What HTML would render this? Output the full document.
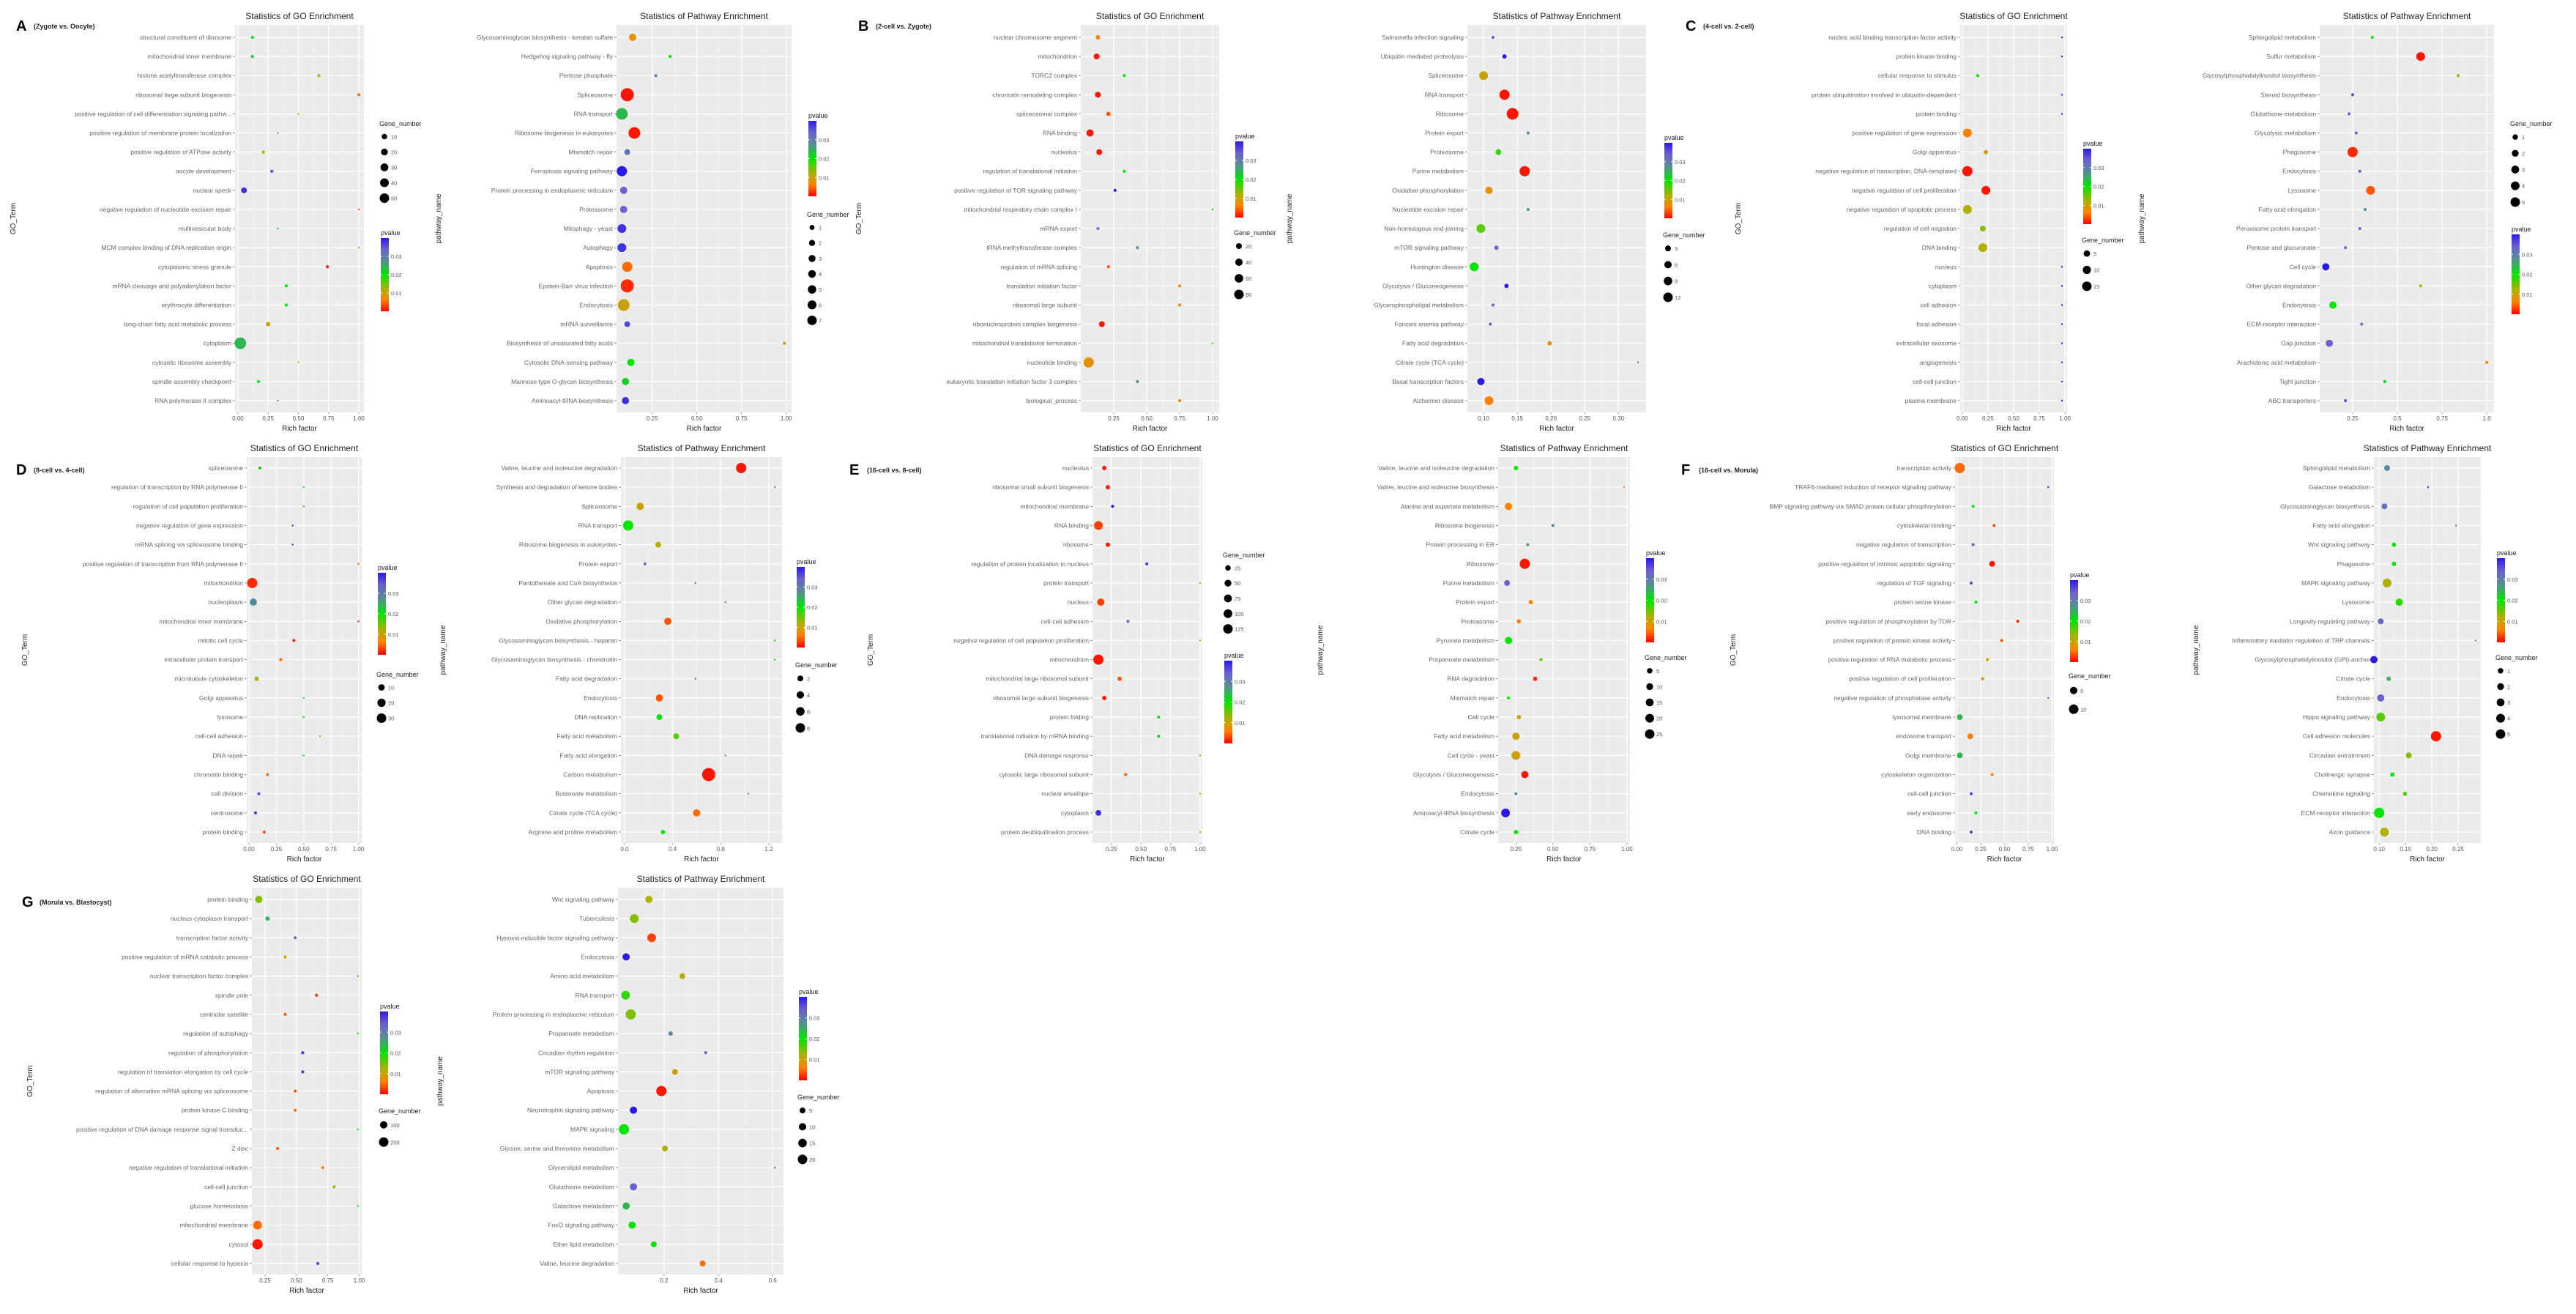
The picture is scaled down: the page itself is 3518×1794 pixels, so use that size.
<!DOCTYPE html>
<html><head><meta charset="utf-8"><style>
html,body{margin:0;padding:0;background:#fff;}
svg{display:block;font-family:"Liberation Sans",sans-serif;}
</style></head><body>
<svg id="fig" width="3518" height="1794" viewBox="0 0 3518 1794" xmlns="http://www.w3.org/2000/svg"></svg>
<script>
// ---------- DATA (categories, rich factor, pvalue, gene number) ----------
const A_GO_cats=["structural constituent of ribosome","mitochondrial inner membrane","histone acetyltransferase complex","ribosomal large subunit biogenesis","positive regulation of cell differentiation signaling pathw...","positive regulation of membrane protein localization","positive regulation of ATPase activity","oocyte development","nuclear speck","negative regulation of nucleotide-excision repair","multivesicular body","MCM complex binding of DNA replication origin","cytoplasmic stress granule","mRNA cleavage and polyadenylation factor","erythrocyte differentiation","long-chain fatty acid metabolic process","cytoplasm","cytosolic ribosome assembly","spindle assembly checkpoint","RNA polymerase II complex"];
const A_GO_rich=[0.12,0.12,0.67,1.0,0.5,0.33,0.21,0.28,0.05,1.0,0.33,1.0,0.74,0.4,0.4,0.25,0.02,0.5,0.17,0.33];
const A_GO_p=[0.020,0.024,0.012,0.005,0.014,0.028,0.012,0.036,0.038,0.004,0.026,0.006,0.001,0.020,0.020,0.010,0.024,0.012,0.020,0.026];
const A_GO_genes=[3,3,3,3,1,1,3,3,11,1,1,1,3,3,3,6,44,1,3,1];

const A_PW_cats=["Glycosaminoglycan biosynthesis - keratan sulfate","Hedgehog signaling pathway - fly","Pentose phosphate","Spliceosome","RNA transport","Ribosome biogenesis in eukaryotes","Mismatch repair","Ferroptosis signaling pathway","Protein processing in endoplasmic reticulum","Proteasome","Mitophagy - yeast","Autophagy","Apoptosis","Epstein-Barr virus infection","Endocytosis","mRNA surveillance","Biosynthesis of unsaturated fatty acids","Cytosolic DNA-sensing pathway","Mannose type O-glycan biosynthesis","Aminoacyl-tRNA biosynthesis"];
const A_PW_rich=[0.14,0.35,0.27,0.11,0.08,0.15,0.11,0.08,0.09,0.09,0.08,0.08,0.11,0.11,0.09,0.11,0.99,0.13,0.10,0.10];
const A_PW_p=[0.008,0.020,0.030,0.001,0.024,0.001,0.032,0.040,0.034,0.034,0.038,0.038,0.005,0.002,0.010,0.036,0.008,0.020,0.022,0.038];
const A_PW_genes=[17,3,3,56,44,44,11,34,17,17,25,25,34,56,44,11,3,17,17,17];

const B_GO_cats=["nuclear chromosome segment","mitochondrion","TORC2 complex","chromatin remodeling complex","spliceosomal complex","RNA binding","nucleolus","regulation of translational initiation","positive regulation of TOR signaling pathway","mitochondrial respiratory chain complex I","mRNA export","tRNA methyltransferase complex","regulation of mRNA splicing","translation initiation factor","ribosomal large subunit","ribonucleoprotein complex biogenesis","mitochondrial translational termination","nucleotide binding","eukaryotic translation initiation factor 3 complex","biological_process"];
const B_GO_rich=[0.13,0.12,0.33,0.13,0.21,0.07,0.14,0.33,0.26,1.0,0.13,0.43,0.21,0.75,0.75,0.16,1.0,0.06,0.43,0.75];
const B_GO_p=[0.006,0.001,0.020,0.001,0.004,0.001,0.001,0.020,0.040,0.020,0.032,0.028,0.004,0.006,0.006,0.001,0.020,0.008,0.028,0.006];
const B_GO_genes=[6,11,3,11,6,17,11,3,3,1,3,3,3,3,3,11,1,34,3,3];

const B_PW_cats=["Salmonella infection signaling","Ubiquitin mediated proteolysis","Spliceosome","RNA transport","Ribosome","Protein export","Proteasome","Purine metabolism","Oxidative phosphorylation","Nucleotide excision repair","Non-homologous end-joining","mTOR signaling pathway","Huntington disease","Glycolysis / Gluconeogenesis","Glycerophospholipid metabolism","Fanconi anemia pathway","Fatty acid degradation","Citrate cycle (TCA cycle)","Basal transcription factors","Alzheimer disease"];
const B_PW_rich=[0.114,0.131,0.100,0.131,0.143,0.166,0.122,0.161,0.108,0.166,0.096,0.119,0.086,0.134,0.114,0.110,0.198,0.329,0.096,0.108];
const B_PW_p=[0.034,0.040,0.010,0.001,0.001,0.028,0.018,0.001,0.008,0.028,0.016,0.034,0.020,0.040,0.034,0.034,0.008,0.032,0.040,0.006];
const B_PW_genes=[3,6,25,34,44,3,11,34,17,3,25,6,25,6,3,3,6,1,17,25];

const C_GO_cats=["nucleic acid binding transcription factor activity","protein kinase binding","cellular response to stimulus","protein ubiquitination involved in ubiquitin-dependent","protein binding","positive regulation of gene expression","Golgi apparatus","negative regulation of transcription, DNA-templated","negative regulation of cell proliferation","negative regulation of apoptotic process","regulation of cell migration","DNA binding","nucleus","cytoplasm","cell adhesion","focal adhesion","extracellular exosome","angiogenesis","cell-cell junction","plasma membrane"];
const C_GO_rich=[0.97,0.97,0.15,0.97,0.97,0.05,0.23,0.05,0.23,0.05,0.20,0.20,0.97,0.97,0.97,0.97,0.97,0.97,0.97,0.97];
const C_GO_p=[0.040,0.040,0.020,0.040,0.040,0.006,0.010,0.001,0.001,0.012,0.014,0.012,0.040,0.040,0.040,0.040,0.040,0.040,0.040,0.040];
const C_GO_genes=[1,1,3,1,1,25,6,34,25,25,11,25,1,1,1,1,1,1,1,1];

const C_PW_cats=["Sphingolipid metabolism","Sulfur metabolism","Glycosylphosphatidylinositol biosynthesis","Steroid biosynthesis","Glutathione metabolism","Glycolysis metabolism","Phagosome","Endocytosis","Lysosome","Fatty acid elongation","Peroxisome protein transport","Pentose and glucuronate","Cell cycle","Other glycan degradation","Endocytosis","ECM-receptor interaction","Gap junction","Arachidonic acid metabolism","Tight junction","ABC transporters"];
const C_PW_rich=[0.36,0.63,0.84,0.25,0.23,0.27,0.25,0.29,0.35,0.32,0.29,0.21,0.10,0.63,0.14,0.30,0.12,1.0,0.43,0.21];
const C_PW_p=[0.020,0.001,0.012,0.036,0.034,0.034,0.002,0.034,0.004,0.028,0.032,0.034,0.040,0.012,0.020,0.032,0.034,0.006,0.020,0.036];
const C_PW_genes=[3,25,3,3,3,3,34,3,25,3,3,3,17,3,17,3,17,3,3,3];

const D_GO_cats=["spliceosome","regulation of transcription by RNA polymerase II","regulation of cell population proliferation","negative regulation of gene expression","mRNA splicing via spliceosome binding","positive regulation of transcription from RNA polymerase II","mitochondrion","nucleoplasm","mitochondrial inner membrane","mitotic cell cycle","intracellular protein transport","microtubule cytoskeleton","Golgi apparatus","lysosome","cell-cell adhesion","DNA repair","chromatin binding","cell division","centrosome","protein binding"];
const D_GO_rich=[0.10,0.5,0.5,0.40,0.40,1.0,0.03,0.04,1.0,0.41,0.29,0.07,0.5,0.5,0.65,0.5,0.17,0.09,0.06,0.14];
const D_GO_p=[0.020,0.020,0.018,0.038,0.038,0.004,0.002,0.028,0.001,0.001,0.005,0.012,0.020,0.020,0.012,0.020,0.005,0.036,0.038,0.004];
const D_GO_genes=[3,1,1,1,1,1,34,17,1,3,3,6,1,1,1,1,3,3,3,3];

const D_PW_cats=["Valine, leucine and isoleucine degradation","Synthesis and degradation of ketone bodies","Spliceosome","RNA transport","Ribosome biogenesis in eukaryotes","Protein export","Pantothenate and CoA biosynthesis","Other glycan degradation","Oxidative phosphorylation","Glycosaminoglycan biosynthesis - heparan","Glycosaminoglycan biosynthesis - chondroitin","Fatty acid degradation","Endocytosis","DNA replication","Fatty acid metabolism","Fatty acid elongation","Carbon metabolism","Butanoate metabolism","Citrate cycle (TCA cycle)","Arginine and proline metabolism"];
const D_PW_rich=[0.97,1.25,0.13,0.03,0.28,0.17,0.59,0.84,0.36,1.25,1.25,0.59,0.29,0.29,0.43,0.84,0.70,1.03,0.60,0.32];
const D_PW_p=[0.001,0.032,0.010,0.020,0.012,0.032,0.032,0.032,0.004,0.020,0.020,0.034,0.004,0.020,0.016,0.028,0.001,0.028,0.005,0.020];
const D_PW_genes=[34,1,17,34,11,3,1,1,17,1,1,1,17,11,11,1,56,1,17,6];

const E_GO_cats=["nucleolus","ribosomal small subunit biogenesis","mitochondrial membrane","RNA binding","ribosome","regulation of protein localization to nucleus","protein transport","nucleus","cell-cell adhesion","negative regulation of cell population proliferation","mitochondrion","mitochondrial large ribosomal subunit","ribosomal large subunit biogenesis","protein folding","translational initiation by mRNA binding","DNA damage response","cytosolic large ribosomal subunit","nuclear envelope","cytoplasm","protein deubiquitination process"];
const E_GO_rich=[0.19,0.22,0.26,0.14,0.22,0.55,1.0,0.16,0.39,1.0,0.14,0.32,0.19,0.65,0.65,1.0,0.37,1.0,0.14,1.0];
const E_GO_p=[0.001,0.001,0.040,0.003,0.001,0.038,0.012,0.003,0.032,0.012,0.001,0.004,0.001,0.020,0.020,0.012,0.004,0.012,0.038,0.012];
const E_GO_genes=[6,6,3,25,6,3,1,17,3,1,34,6,6,3,3,1,3,1,11,1];

const E_PW_cats=["Valine, leucine and isoleucine degradation","Valine, leucine and isoleucine biosynthesis","Alanine and aspartate metabolism","Ribosome biogenesis","Protein processing in ER","Ribosome","Purine metabolism","Protein export","Proteasome","Pyruvate metabolism","Propanoate metabolism","RNA degradation","Mismatch repair","Cell cycle","Fatty acid metabolism","Cell cycle - yeast","Glycolysis / Gluconeogenesis","Endocytosis","Aminoacyl-tRNA biosynthesis","Citrate cycle"];
const E_PW_rich=[0.25,0.98,0.20,0.50,0.33,0.31,0.19,0.35,0.27,0.20,0.42,0.38,0.20,0.27,0.25,0.25,0.31,0.25,0.18,0.25];
const E_PW_p=[0.020,0.006,0.006,0.028,0.028,0.001,0.034,0.006,0.006,0.020,0.016,0.002,0.020,0.010,0.010,0.010,0.001,0.028,0.040,0.020];
const E_PW_genes=[6,1,17,3,3,34,11,6,6,17,3,6,3,6,17,25,17,3,25,6];

const F_GO_cats=["transcription activity","TRAF6-mediated induction of receptor signaling pathway","BMP signaling pathway via SMAD protein cellular phosphorylation","cytoskeletal binding","negative regulation of transcription","positive regulation of intrinsic apoptotic signaling","regulation of TGF signaling","protein serine kinase","positive regulation of phosphorylation by TOR","positive regulation of protein kinase activity","positive regulation of RNA metabolic process","positive regulation of cell proliferation","negative regulation of phosphatase activity","lysosomal membrane","endosome transport","Golgi membrane","cytoskeleton organization","cell-cell junction","early endosome","DNA binding"];
const F_GO_rich=[0.03,0.96,0.17,0.39,0.17,0.37,0.15,0.20,0.64,0.47,0.32,0.27,0.96,0.03,0.14,0.03,0.37,0.15,0.20,0.15];
const F_GO_p=[0.005,0.040,0.020,0.004,0.034,0.001,0.036,0.020,0.002,0.004,0.010,0.010,0.036,0.024,0.006,0.024,0.006,0.036,0.020,0.036];
const F_GO_genes=[34,1,3,3,3,11,3,3,3,3,3,3,1,11,11,11,3,3,3,3];

const F_PW_cats=["Sphingolipid metabolism","Galactose metabolism","Glycosaminoglycan biosynthesis","Fatty acid elongation","Wnt signaling pathway","Phagosome","MAPK signaling pathway","Lysosome","Longevity regulating pathway","Inflammatory mediator regulation of TRP channels","Glycosylphosphatidylinositol (GPI)-anchor","Citrate cycle","Endocytosis","Hippo signaling pathway","Cell adhesion molecules","Circadian entrainment","Cholinergic synapse","Chemokine signaling","ECM-receptor interaction","Axon guidance"];
const F_PW_rich=[0.115,0.193,0.110,0.246,0.128,0.128,0.115,0.138,0.103,0.283,0.090,0.118,0.103,0.103,0.208,0.156,0.125,0.149,0.100,0.110];
const F_PW_p=[0.028,0.038,0.032,0.030,0.020,0.020,0.012,0.018,0.034,0.028,0.040,0.024,0.034,0.016,0.001,0.014,0.020,0.016,0.020,0.012];
const F_PW_genes=[11,1,11,1,6,6,25,17,11,1,17,6,17,25,34,11,6,6,34,25];

const G_GO_cats=["protein binding","nucleus-cytoplasm transport","transcription factor activity","positive regulation of mRNA catabolic process","nuclear transcription factor complex","spindle pole","centriolar satellite","regulation of autophagy","regulation of phosphorylation","regulation of translation elongation by cell cycle","regulation of alternative mRNA splicing via spliceosome","protein kinase C binding","positive regulation of DNA damage response signal transduc...","Z disc","negative regulation of translational initiation","cell-cell junction","glucose homeostasis","mitochondrial membrane","cytosol","cellular response to hypoxia"];
const G_GO_rich=[0.20,0.27,0.49,0.41,0.99,0.66,0.41,0.99,0.55,0.55,0.49,0.49,0.99,0.35,0.71,0.80,0.99,0.19,0.19,0.67];
const G_GO_p=[0.014,0.024,0.034,0.010,0.020,0.002,0.004,0.020,0.038,0.038,0.004,0.005,0.020,0.004,0.006,0.012,0.020,0.005,0.001,0.036];
const G_GO_genes=[17,6,3,3,1,3,3,1,3,3,3,3,1,3,3,3,1,25,34,3];

const G_PW_cats=["Wnt signaling pathway","Tuberculosis","Hypoxia-inducible factor signaling pathway","Endocytosis","Amino acid metabolism","RNA transport","Protein processing in endoplasmic reticulum","Propanoate metabolism","Circadian rhythm regulation","mTOR signaling pathway","Apoptosis","Neurotrophin signaling pathway","MAPK signaling","Glycine, serine and threonine metabolism","Glycerolipid metabolism","Glutathione metabolism","Galactose metabolism","FoxO signaling pathway","Ether lipid metabolism","Valine, leucine degradation"];
const G_PW_rich=[0.144,0.090,0.154,0.060,0.267,0.058,0.077,0.224,0.353,0.240,0.190,0.087,0.052,0.203,0.608,0.087,0.060,0.082,0.162,0.342];
const G_PW_p=[0.012,0.014,0.003,0.040,0.012,0.018,0.014,0.028,0.034,0.010,0.001,0.040,0.020,0.012,0.034,0.034,0.024,0.020,0.020,0.005];
const G_PW_genes=[17,25,25,17,11,25,34,6,3,11,34,17,34,11,1,17,17,17,11,11];

const tickLabelsStd=["0.00","0.25","0.50","0.75","1.00"];
const ticksStd=[0,0.25,0.5,0.75,1.0];

// ---------- LAYOUT ----------
const R1={y0:34,y1:563,r0:51,r1:547},R2={y0:624,y1:1151,r0:639,r1:1136},R3={y0:1212,y1:1740,r0:1228,r1:1725};
const panels=[
 {n:"a-go",kind:"GO",cats:A_GO_cats,rich:A_GO_rich,p:A_GO_p,g:A_GO_genes,x0:321,x1:497,R:R1,d:[-0.024,1.042],ticks:ticksStd,tl:tickLabelsStd,cb:[520,325,425],gl:[520,176,281],gv:[10,20,30,40,50]},
 {n:"a-pathway",kind:"PW",cats:A_PW_cats,rich:A_PW_rich,p:A_PW_p,g:A_PW_genes,x0:842,x1:1081,R:R1,d:[0.05,1.03],ticks:[0.25,0.5,0.75,1.0],tl:["0.25","0.50","0.75","1.00"],cb:[1104,165,268],gl:[1104,300,448],gv:[1,2,3,4,5,6,7]},
 {n:"b-go",kind:"GO",cats:B_GO_cats,rich:B_GO_rich,p:B_GO_p,g:B_GO_genes,x0:1476,x1:1665,R:R1,d:[0,1.05],ticks:[0.25,0.5,0.75,1.0],tl:["0.25","0.50","0.75","1.00"],cb:[1687,193,297],gl:[1687,325,413],gv:[20,40,60,80]},
 {n:"b-pathway",kind:"PW",cats:B_PW_cats,rich:B_PW_rich,p:B_PW_p,g:B_PW_genes,x0:2004,x1:2248,R:R1,d:[0.076,0.341],ticks:[0.10,0.15,0.20,0.25,0.30],tl:["0.10","0.15","0.20","0.25","0.30"],cb:[2273,195,298],gl:[2273,328,417],gv:[3,6,9,12]},
 {n:"c-go",kind:"GO",cats:C_GO_cats,rich:C_GO_rich,p:C_GO_p,g:C_GO_genes,x0:2677,x1:2823,R:R1,d:[-0.02,1.02],ticks:ticksStd,tl:tickLabelsStd,cb:[2845,203,306],gl:[2845,335,402],gv:[5,10,15]},
 {n:"c-pathway",kind:"PW",cats:C_PW_cats,rich:C_PW_rich,p:C_PW_p,g:C_PW_genes,x0:3168,x1:3406,R:R1,d:[0.066,1.04],ticks:[0.25,0.5,0.75,1.0],tl:["0.25","0.5","0.75","1.0"],cb:[3430,320,429],gl:[3430,176,287],gv:[1,2,3,4,5]},
 {n:"d-go",kind:"GO",cats:D_GO_cats,rich:D_GO_rich,p:D_GO_p,g:D_GO_genes,x0:337,x1:494,R:R2,d:[-0.02,1.03],ticks:ticksStd,tl:tickLabelsStd,cb:[516,782,894],gl:[516,928,991],gv:[10,20,30]},
 {n:"d-pathway",kind:"PW",cats:D_PW_cats,rich:D_PW_rich,p:D_PW_p,g:D_PW_genes,x0:848,x1:1068,R:R2,d:[-0.03,1.31],ticks:[0,0.4,0.8,1.2],tl:["0.0","0.4","0.8","1.2"],cb:[1088,774,884],gl:[1088,915,1005],gv:[2,4,6,8]},
 {n:"e-go",kind:"GO",cats:E_GO_cats,rich:E_GO_rich,p:E_GO_p,g:E_GO_genes,x0:1492,x1:1642,R:R2,d:[0.09,1.02],ticks:[0.25,0.5,0.75,1.0],tl:["0.25","0.50","0.75","1.00"],cb:[1672,902,1015],gl:[1672,765,869],gv:[25,50,75,100,125]},
 {n:"e-pathway",kind:"PW",cats:E_PW_cats,rich:E_PW_rich,p:E_PW_p,g:E_PW_genes,x0:2046,x1:2226,R:R2,d:[0.13,1.02],ticks:[0.25,0.5,0.75,1.0],tl:["0.25","0.50","0.75","1.00"],cb:[2248,762,877],gl:[2248,905,1013],gv:[5,10,15,20,25]},
 {n:"f-go",kind:"GO",cats:F_GO_cats,rich:F_GO_rich,p:F_GO_p,g:F_GO_genes,x0:2670,x1:2805,R:R2,d:[-0.02,1.02],ticks:ticksStd,tl:tickLabelsStd,cb:[2827,792,904],gl:[2827,930,981],gv:[5,10]},
 {n:"f-pathway",kind:"PW",cats:F_PW_cats,rich:F_PW_rich,p:F_PW_p,g:F_PW_genes,x0:3242,x1:3388,R:R2,d:[0.09,0.293],ticks:[0.10,0.15,0.20,0.25],tl:["0.10","0.15","0.20","0.25"],cb:[3410,762,877],gl:[3410,905,1013],gv:[1,2,3,4,5]},
 {n:"g-go",kind:"GO",cats:G_GO_cats,rich:G_GO_rich,p:G_GO_p,g:G_GO_genes,x0:344,x1:494,R:R3,d:[0.145,1.02],ticks:[0.25,0.5,0.75,1.0],tl:["0.25","0.50","0.75","1.00"],cb:[519,1381,1494],gl:[519,1524,1571],gv:[100,200]},
 {n:"g-pathway",kind:"PW",cats:G_PW_cats,rich:G_PW_rich,p:G_PW_p,g:G_PW_genes,x0:844,x1:1070,R:R3,d:[0.03,0.64],ticks:[0.2,0.4,0.6],tl:["0.2","0.4","0.6"],cb:[1091,1361,1475],gl:[1091,1505,1594],gv:[5,10,15,20]}
];
const letters=[["A","(Zygote vs. Oocyte)",22,42],["B","(2-cell vs. Zygote)",1172,42],["C","(4-cell vs. 2-cell)",2302,42],["D","(8-cell vs. 4-cell)",22,648],["E","(16-cell vs. 8-cell)",1160,648],["F","(16-cell vs. Morula)",2296,648],["G","(Morula vs. Blastocyst)",30,1238]];

// ---------- DRAW ----------
const NS="http://www.w3.org/2000/svg";
const svg=document.getElementById('fig');
function mk(tag,attrs,parent,text){const e=document.createElementNS(NS,tag);for(const k in attrs)e.setAttribute(k,attrs[k]);if(text!==undefined)e.textContent=text;(parent||svg).appendChild(e);return e;}
const stops=[[0,[255,0,0]],[0.15,[255,128,0]],[0.3,[176,176,0]],[0.5,[0,230,0]],[0.7,[90,138,154]],[0.85,[106,96,208]],[1,[42,26,232]]];
function colorOf(t){t=Math.max(0,Math.min(1,t));for(let i=1;i<stops.length;i++){if(t<=stops[i][0]){const a=stops[i-1],b=stops[i];const f=(t-a[0])/(b[0]-a[0]);const c=a[1].map((v,j)=>Math.round(v+(b[1][j]-v)*f));return `rgb(${c.join(',')})`;}}return 'rgb(42,26,232)';}
const PMAX=0.04;
const rOf=g=>Math.sqrt(g)*1.2;

const defs=mk('defs',{});
const lg=mk('linearGradient',{id:'pgrad',x1:0,y1:1,x2:0,y2:0},defs);
stops.forEach(s=>{mk('stop',{offset:s[0],'stop-color':colorOf(s[0])},lg);});

panels.forEach(P=>{
  const G=mk('g',{});
  
  
  const R=P.R, xs=v=>P.x0+(v-P.d[0])/(P.d[1]-P.d[0])*(P.x1-P.x0);
  const n=P.cats.length, ys=i=>R.r0+i*(R.r1-R.r0)/(n-1);
  const bg=mk('rect',{x:P.x0,y:R.y0,width:P.x1-P.x0,height:R.y1-R.y0,fill:'#ebebeb'},G);
  
  
  P.ticks.forEach((t,i)=>{
    const x=xs(t);
    mk('line',{x1:x,x2:x,y1:R.y0,y2:R.y1,stroke:'#fff','stroke-width':1.2},G);
    if(i<P.ticks.length-1){const xm=xs((t+P.ticks[i+1])/2);mk('line',{x1:xm,x2:xm,y1:R.y0,y2:R.y1,stroke:'#f6f6f6','stroke-width':0.6},G);}
    const tl=mk('text',{x:x,y:R.y1+11,'font-size':8,fill:'#555','text-anchor':'middle'},G,P.tl[i]);
    
    
    mk('line',{x1:x,x2:x,y1:R.y1,y2:R.y1+2,stroke:'#444','stroke-width':0.6},G);
  });
  P.cats.forEach((c,i)=>{
    const y=ys(i);
    mk('line',{x1:P.x0,x2:P.x1,y1:y,y2:y,stroke:'#fff','stroke-width':1.2},G);
    const t=mk('text',{x:P.x0-5,y:y+3,'font-size':8.5,fill:'#666','text-anchor':'end'},G,c);
    
    
    mk('line',{x1:P.x0-3,x2:P.x0,y1:y,y2:y,stroke:'#444','stroke-width':0.6},G);
  });
  P.cats.forEach((c,i)=>{
    const d=mk('circle',{cx:xs(P.rich[i]),cy:ys(i),r:rOf(P.g[i]),fill:colorOf(P.p[i]/PMAX)},G);
    
    
  });
  const cx=(P.x0+P.x1)/2;
  const ti=mk('text',{x:cx,y:R.y0-8,'font-size':12,fill:'#222','text-anchor':'middle'},G,P.kind==='GO'?'Statistics of GO Enrichment':'Statistics of Pathway Enrichment');
  
  
  const xt=mk('text',{x:cx,y:R.y1+25,'font-size':10,fill:'#222','text-anchor':'middle'},G,'Rich factor');
  
  
  const yx=P.kind==='GO'?P.x0-300:P.x0-240, ym=(R.y0+R.y1)/2;
  const yt=mk('text',{x:yx,y:ym,'font-size':10,fill:'#222','text-anchor':'middle',transform:`rotate(-90 ${yx} ${ym})`},G,P.kind==='GO'?'GO_Term':'pathway_name');
  
  
  // colorbar legend
  const [bx,by0,by1]=P.cb;
  const lt=mk('text',{x:bx,y:by0-4,'font-size':9,fill:'#222'},G,'pvalue');
  
  
  const bar=mk('rect',{x:bx,y:by0,width:11,height:by1-by0,fill:'url(#pgrad)'},G);
  
  
  [0.01,0.02,0.03].forEach(v=>{const y=by1-(v/PMAX)*(by1-by0);mk('text',{x:bx+14,y:y+3,'font-size':7.5,fill:'#555'},G,v.toFixed(2));mk('line',{x1:bx,x2:bx+2,y1:y,y2:y,stroke:'#fff'},G);mk('line',{x1:bx+9,x2:bx+11,y1:y,y2:y,stroke:'#fff'},G);});
  // gene number legend
  const [gx,gy0,gy1]=P.gl;
  const gt=mk('text',{x:gx-2,y:gy0-4,'font-size':9,fill:'#222'},G,'Gene_number');
  
  
  const step=(gy1-gy0)/P.gv.length;
  const mx=Math.max(...P.g);
  P.gv.forEach((v,i)=>{const y=gy0+step*(i+0.5);const r=1.5+5*Math.sqrt((i+1)/P.gv.length);
    const k=mk('circle',{cx:gx+5,cy:y,r:r,fill:'#000'},G);
    
    
    mk('text',{x:gx+14,y:y+3,'font-size':7.5,fill:'#555'},G,String(v));});
});

letters.forEach(([L,s,x,y])=>{
  const t=mk('text',{x:x,y:y,'font-size':20,'font-weight':'bold',fill:'#000'},svg,L);
  
  
  const u=mk('text',{x:x+24,y:y-3,'font-size':9,'font-weight':'bold',fill:'#222'},svg,s);
  
  
});
</script>
</body></html>
